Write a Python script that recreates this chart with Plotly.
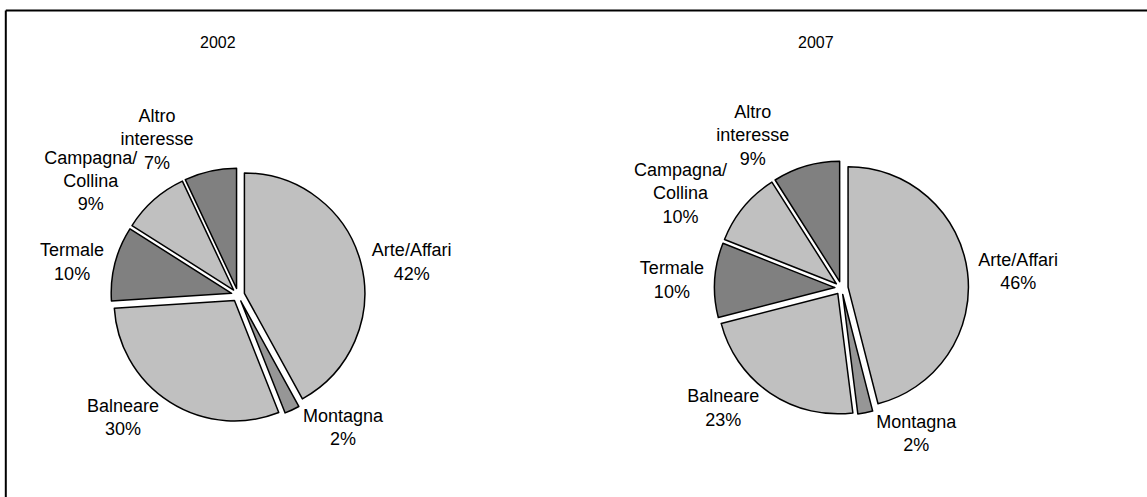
import plotly.graph_objects as go

# Holiday-type shares of arrivals, in percent
categories = ["Arte/Affari", "Montagna", "Balneare", "Termale", "Campagna/Collina", "Altro interesse"]
slice_names = ["Arte/Affari", "Montagna", "Balneare", "Termale", "Campagna/<br>Collina", "Altro<br>interesse"]
shares_2002 = [42, 2, 30, 10, 9, 7]
shares_2007 = [46, 2, 23, 10, 10, 9]
years = ["2002", "2007"]

slice_colors = ["#C0C0C0", "#969696", "#C0C0C0", "#808080", "#C0C0C0", "#808080"]
W, H = 1147, 497
PULL = 0.055
label_font = dict(family="Liberation Sans, Arial, sans-serif", size=18, color="#000000")

# Labels are split over two layers so that neighbouring three-line labels in the
# upper-left quadrant are not shifted (and given leader lines) by the pie's
# label-collision handling.
main_labels = [True, True, True, True, False, True]


def pie_domain(cx, cy, half):
    return dict(x=[(cx - half) / W, (cx + half) / W],
                y=[1 - (cy + half) / H, 1 - (cy - half) / H])


def make_pie(values, domain, show_label, visible_fill):
    n = len(values)
    if visible_fill:
        marker = dict(colors=slice_colors, line=dict(color="#000000", width=1.5))
        hover = "label+percent"
    else:
        marker = dict(colors=["rgba(0,0,0,0)"] * n, line=dict(color="rgba(0,0,0,0)", width=0))
        hover = "skip"
    return go.Pie(
        labels=categories,
        values=values,
        text=slice_names,
        texttemplate="%{text}<br>%{value}%",
        textposition=["outside" if s else "none" for s in show_label],
        outsidetextfont=label_font,
        sort=False,
        direction="clockwise",
        rotation=0,
        pull=PULL,
        marker=marker,
        domain=domain,
        showlegend=False,
        hoverinfo=hover,
    )


fig = go.Figure()
for values, (cx, cy) in zip([shares_2002, shares_2007], [(238, 295), (841.5, 288)]):
    dom = pie_domain(cx, cy, 127)
    fig.add_trace(make_pie(values, dom, main_labels, True))
    fig.add_trace(make_pie(values, dom, [not s for s in main_labels], False))

title_font = dict(family="Liberation Sans Narrow, Arial Narrow, sans-serif", size=16, color="#000000")
for year, cx in zip(years, [218, 816]):
    fig.add_annotation(text=year, x=cx / W, y=1 - 42 / H, xref="paper", yref="paper",
                       showarrow=False, font=title_font, xanchor="center", yanchor="middle")

# Frame around the chart area (top and left edges fall inside the page)
frame = dict(color="#000000", width=2)
fig.add_shape(type="line", xref="paper", yref="paper", x0=5.8 / W, x1=1.0, y0=1 - 10.5 / H, y1=1 - 10.5 / H, line=frame)
fig.add_shape(type="line", xref="paper", yref="paper", x0=5.8 / W, x1=5.8 / W, y0=1 - 10.5 / H, y1=0, line=frame)

fig.update_layout(
    width=W, height=H,
    margin=dict(l=0, r=0, t=0, b=0),
    paper_bgcolor="#FFFFFF",
    plot_bgcolor="#FFFFFF",
)

fig.write_html("out.html")
